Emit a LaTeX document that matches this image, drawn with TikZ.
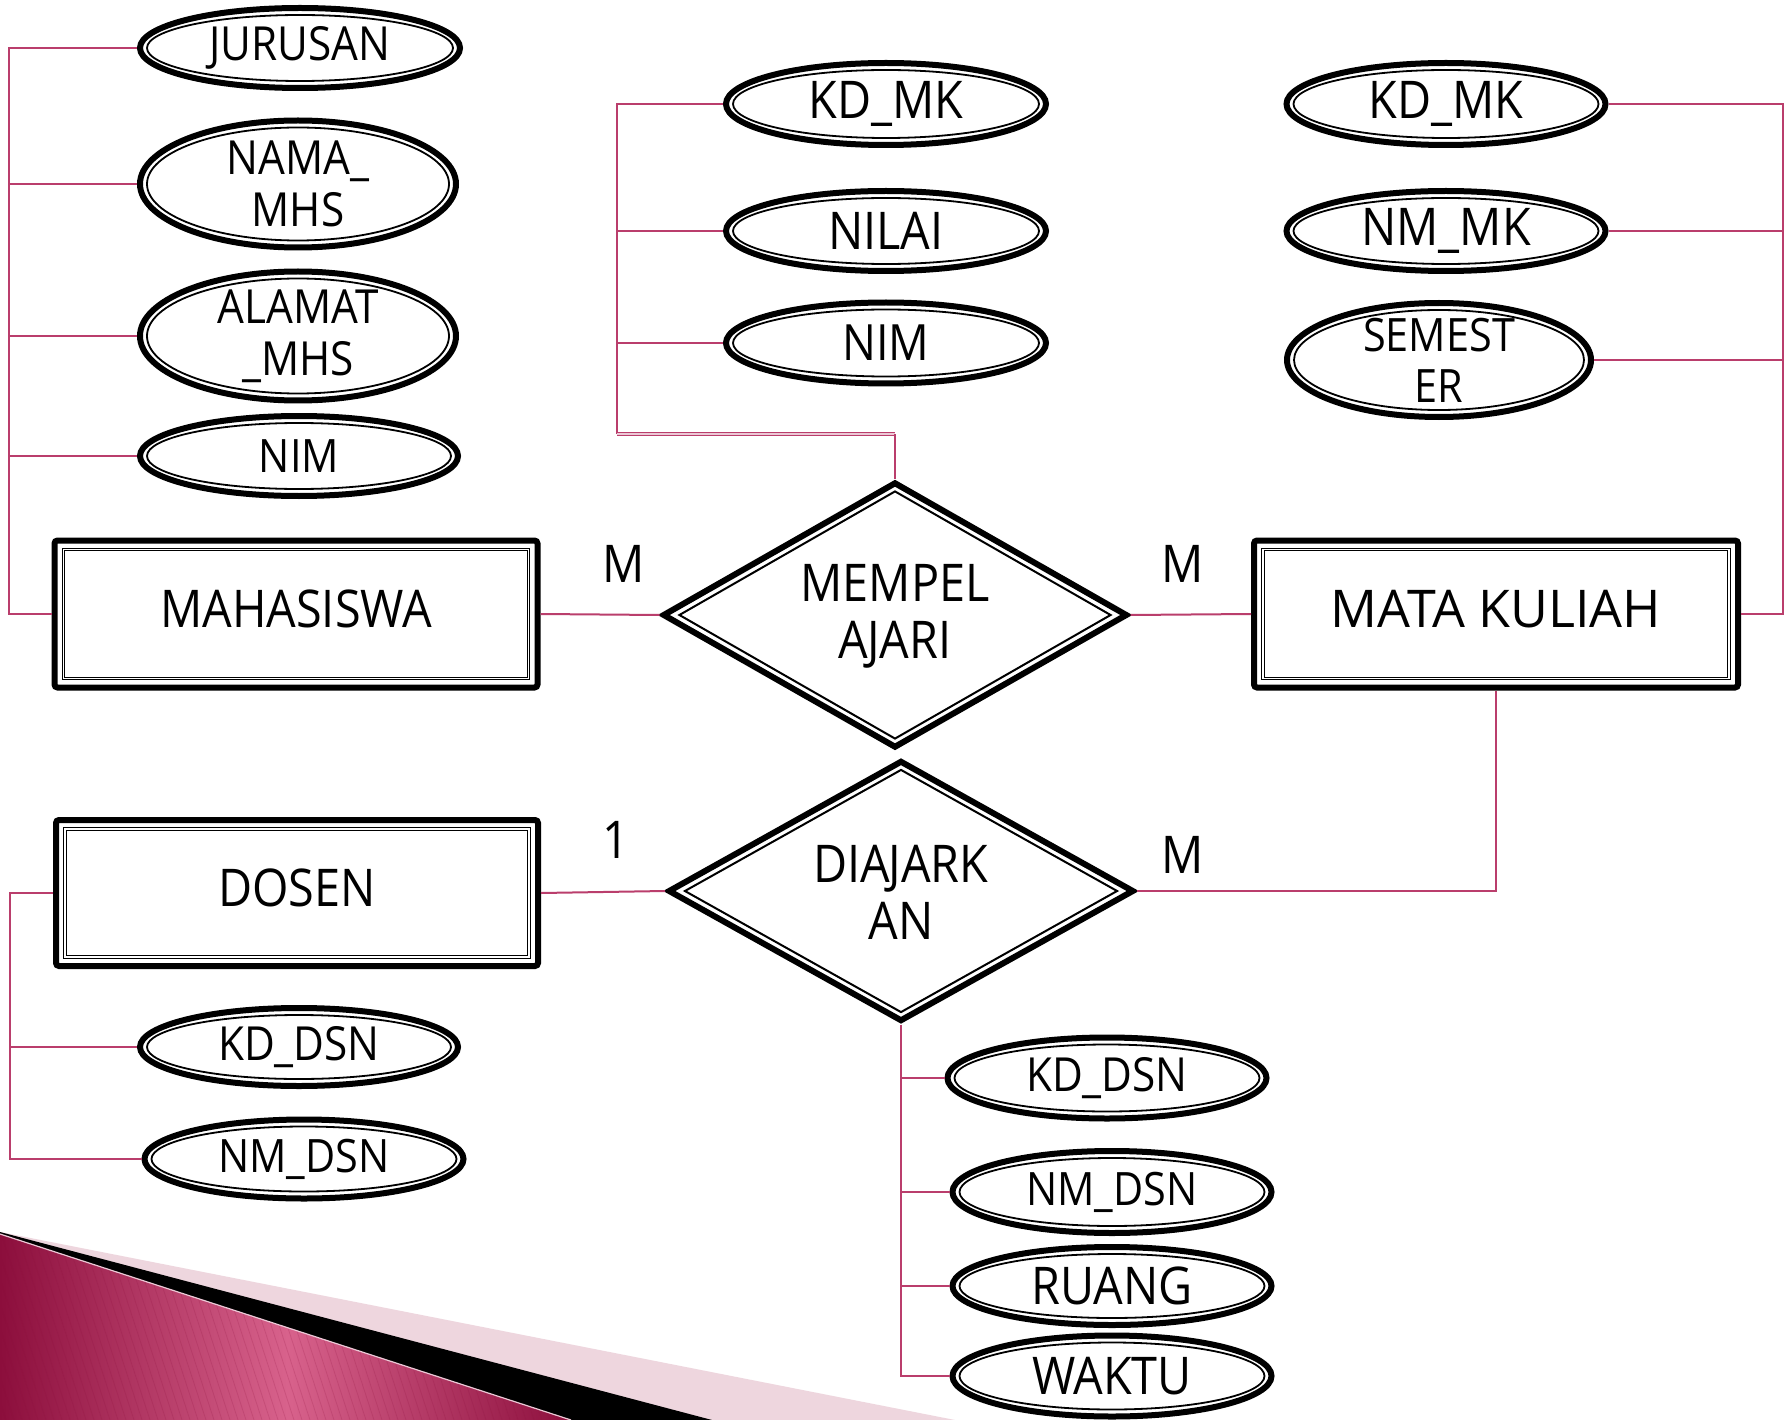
\documentclass[tikz,border=0pt]{standalone}
\usepackage{fontspec}
\setmainfont{Open Sans}[FakeStretch=0.9]
\newfontfamily\widefont{Open Sans}
\usetikzlibrary{shapes.geometric}

\definecolor{linkred}{RGB}{186,62,108}
\definecolor{linkpale}{RGB}{236,200,214}
\definecolor{crimdark}{RGB}{140,14,60}
\definecolor{crimlight}{RGB}{216,98,140}
\definecolor{pinkband}{RGB}{238,214,222}

\tikzset{
  attrout/.style={ellipse, draw=black, line width=6pt, fill=white, inner sep=0pt},
  attrin/.style={ellipse, draw=black, line width=1.8pt, inner sep=0pt},
  attrtext/.style={inner sep=0pt, align=center},
  entout/.style={rectangle, draw=black, line width=6pt, rounded corners=3pt, fill=white, inner sep=0pt},
  entin/.style={rectangle, draw=black, double=white, line width=0.9pt, double distance=1.4pt, inner sep=0pt},
  relout/.style={diamond, aspect=1.8, draw=black, line width=6pt, fill=white, inner sep=0pt},
  relin/.style={diamond, aspect=1.8, draw=black, line width=2pt, inner sep=0pt},
  conn/.style={draw=linkred, line width=2pt},
  card/.style={inner sep=0pt, font=\fontsize{52}{56}\selectfont},
}

% attribute: name, x, y, width, height, font size, text
\newcommand\attrnode[7]{%
  \node[attrout, minimum width=#4, minimum height=#5] (#1) at (#2,#3) {};
  \node[attrin, minimum width={#4-14}, minimum height={#5-14}] (#1-in) at (#1.center) {};
  \node[attrtext, font=\fontsize{#6}{\the\numexpr#6+5\relax}\selectfont] (#1-t) at (#1.center) {#7};
}
% entity: name, x, y, width, height, text
\newcommand\entnode[6]{%
  \node[entout, minimum width=#4, minimum height=#5] (#1) at (#2,#3) {};
  \node[entin, minimum width={#4-18}, minimum height={#5-18}] (#1-in) at (#1.center) {};
  \node[attrtext, font=\fontsize{52}{57}\selectfont] (#1-t) at ([yshift=5pt]#1.center) {#6};
}
% relationship: name, x, y, width, height, text
\newcommand\relnode[6]{%
  \node[relout, minimum width=#4, minimum height=#5] (#1) at (#2,#3) {};
  \node[relin, minimum width={#4-33}, minimum height={#5-18}] (#1-in) at (#1.center) {};
  \node[attrtext, font=\fontsize{52}{57}\selectfont] (#1-t) at ([yshift=-1pt]#1.center) {#6};
}

\begin{document}
\begin{tikzpicture}[x=1pt, y=-1pt]
\useasboundingbox (0,0) rectangle (1791,1420);
\fill[white] (0,0) rectangle (1791,1420);

% corner swoosh
\fill[pinkband] (0,1232) -- (955,1420) -- (0,1420) -- cycle;
\fill[black] (0,1232) -- (712,1420) -- (0,1420) -- cycle;
\begin{scope}
  \clip (0,1234) -- (571,1420) -- (0,1420) -- cycle;
  \shade[left color=crimdark, right color=crimdark, middle color=crimlight]
    (0,1230) rectangle (575,1420);
  \foreach \i in {-80,-72,...,600}
    \draw[crimdark, opacity=0.18, line width=0.8pt] (\i,1230) -- (\i+62,1420);
\end{scope}
\draw[linkpale, line width=1.2pt] (0,1234) -- (571,1420);

% entities
\entnode{mhs}{296}{614}{483}{147}{MAHASISWA}
\entnode{mk}{1496}{614}{484}{147}{\widefont MATA KULIAH}
\entnode{dosen}{297}{893}{482}{146}{DOSEN}

% relationships
\relnode{mem}{895}{615}{465}{266}{MEMPEL\\A\kern-1.5pt JARI}
\relnode{dia}{901}{891}{466}{261}{DIA\kern-1.5pt JARK\\AN}

% attributes of MAHASISWA
\attrnode{jur}{300}{48}{320}{80}{47}{JURUSAN}
\attrnode{nama}{298}{184}{316}{127}{47}{NAMA\_\\MHS}
\attrnode{alamat}{298}{336}{316}{129}{47}{ALAMAT\\\_MHS}
\attrnode{nima}{299}{456}{318}{80}{46}{NIM}

% attributes of MEMPELAJARI
\attrnode{kdmka}{886}{104}{320}{82}{52}{KD\_MK}
\attrnode{nilai}{886}{231}{320}{80}{52}{NILAI}
\attrnode{nimb}{886}{343}{320}{81}{50}{NIM}

% attributes of MATA KULIAH
\attrnode{kdmkb}{1446}{104}{319}{82}{52}{KD\_MK}
\attrnode{nmmk}{1446}{231}{319}{80}{52}{NM\_MK}
\attrnode{sem}{1439}{360}{304}{114}{46}{SEMEST\\ER}

% attributes of DOSEN
\attrnode{kddsna}{299}{1047}{318}{78}{47}{KD\_DSN}
\attrnode{nmdsna}{304}{1159}{319}{79}{46}{NM\_DSN}

% attributes of DIAJARKAN
\attrnode{kddsnb}{1107}{1078}{319}{81}{47}{KD\_DSN}
\attrnode{nmdsnb}{1112}{1192}{319}{82}{46}{NM\_DSN}
\attrnode{ruang}{1112}{1286}{319}{78}{52}{RUANG}
\attrnode{waktu}{1112}{1376}{319}{81}{52}{WAKTU}

% cardinalities
\node[card] (c1) at (624,564) {M};
\node[card] (c2) at (1183,564) {M};
\node[card] (c3) at (616,840) {1};
\node[card] (c4) at (1183,855) {M};

% trunk points
\coordinate (lt) at (9,0);
\coordinate (mj) at (617,434);
\coordinate (rt) at (1783,0);
\coordinate (dt) at (10,0);

% MAHASISWA attribute links
\draw[conn] (jur.west) -- (jur.west -| lt) |- (mhs.west);
\draw[conn] (nama.west) -- (nama.west -| lt);
\draw[conn] (alamat.west) -- (alamat.west -| lt);
\draw[conn] (nima.west) -- (nima.west -| lt);

% MEMPELAJARI attribute links
\draw[conn] (kdmka.west) -| (mj);
\draw[conn] (nilai.west) -- (nilai.west -| mj);
\draw[conn] (nimb.west) -- (nimb.west -| mj);
\draw[linkred, line width=1.3pt, double=linkpale, double distance=1.6pt] (mj) -- (mj -| mem.north);
\draw[conn] (mj -| mem.north) -- (mem.north);

% MATA KULIAH attribute links
\draw[conn] (kdmkb.east) -- (kdmkb.east -| rt) |- (mk.east);
\draw[conn] (nmmk.east) -- (nmmk.east -| rt);
\draw[conn] (sem.east) -- (sem.east -| rt);

% relationship links
\draw[conn] (mhs.east) -- (mem.west);
\draw[conn] (mem.east) -- (mk.west);
\draw[conn] (dosen.east) -- (dia.west);
\draw[conn] (mk.south) |- (dia.east);

% DOSEN attribute links
\draw[conn] (dosen.west) -- (dosen.west -| dt) |- (nmdsna.west);
\draw[conn] (kddsna.west) -- (kddsna.west -| dt);

% DIAJARKAN attribute links
\draw[conn] (dia.south) |- (waktu.west);
\draw[conn] (kddsnb.west) -- (kddsnb.west -| dia.south);
\draw[conn] (nmdsnb.west) -- (nmdsnb.west -| dia.south);
\draw[conn] (ruang.west) -- (ruang.west -| dia.south);
\end{tikzpicture}
\end{document}
